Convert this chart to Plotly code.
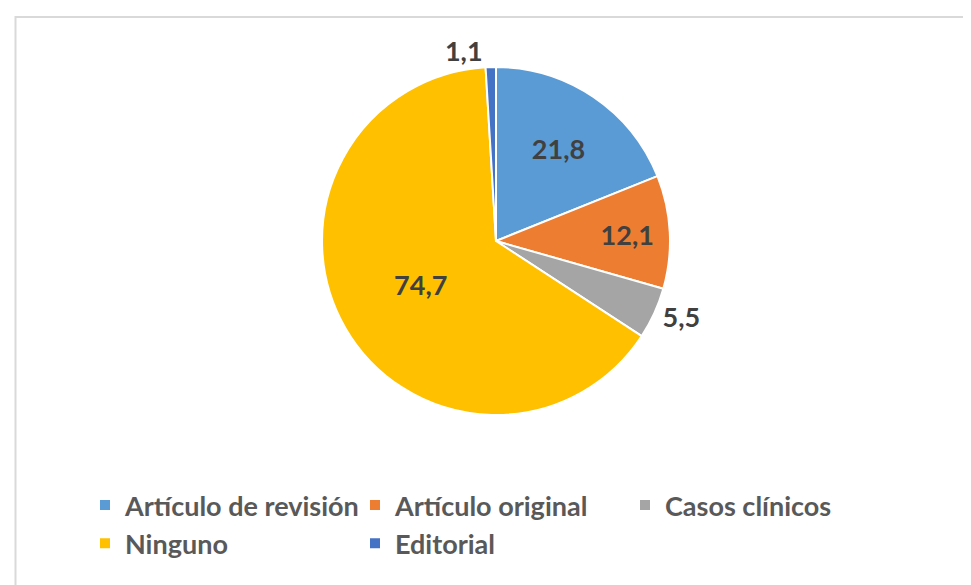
import plotly.graph_objects as go

# datos del gráfico
categorias = ["Artículo de revisión", "Artículo original", "Casos clínicos", "Ninguno", "Editorial"]
valores = [21.8, 12.1, 5.5, 74.7, 1.1]
colores = ["#5B9BD5", "#ED7D31", "#A5A5A5", "#FFC000", "#4472C4"]
posicion_texto = ["inside", "inside", "outside", "inside", "outside"]

W, H = 971, 585

fig = go.Figure()
fig.add_trace(go.Pie(
    labels=categorias,
    values=valores,
    sort=False,
    direction="clockwise",
    rotation=0,
    marker=dict(colors=colores, line=dict(color="white", width=2)),
    texttemplate="%{value:.1f}",
    textposition=posicion_texto,
    insidetextorientation="horizontal",
    textfont=dict(family="Lato", size=27, color="#404040", weight="bold"),
    domain=dict(x=[314 / W, 662 / W], y=[(H - 407) / H, (H - 59) / H]),
    hoverinfo="label+value",
))

# borde gris claro del área del gráfico
fig.add_shape(type="rect", xref="paper", yref="paper",
              x0=7.5 / W, x1=1.05, y0=-0.05, y1=(H - 9) / H,
              line=dict(color="#D9D9D9", width=2), fillcolor="rgba(0,0,0,0)", layer="below")

fig.update_layout(
    width=W, height=H,
    separators=",.",
    margin=dict(l=0, r=0, t=0, b=0),
    paper_bgcolor="white",
    plot_bgcolor="white",
    showlegend=True,
    legend=dict(
        orientation="h",
        x=77 / W, xanchor="left",
        y=(H - 473) / H, yanchor="top",
        entrywidth=225,
        itemwidth=30,
        font=dict(family="Lato", size=27, color="#595959", weight="bold"),
    ),
)

fig.write_html("out.html")
